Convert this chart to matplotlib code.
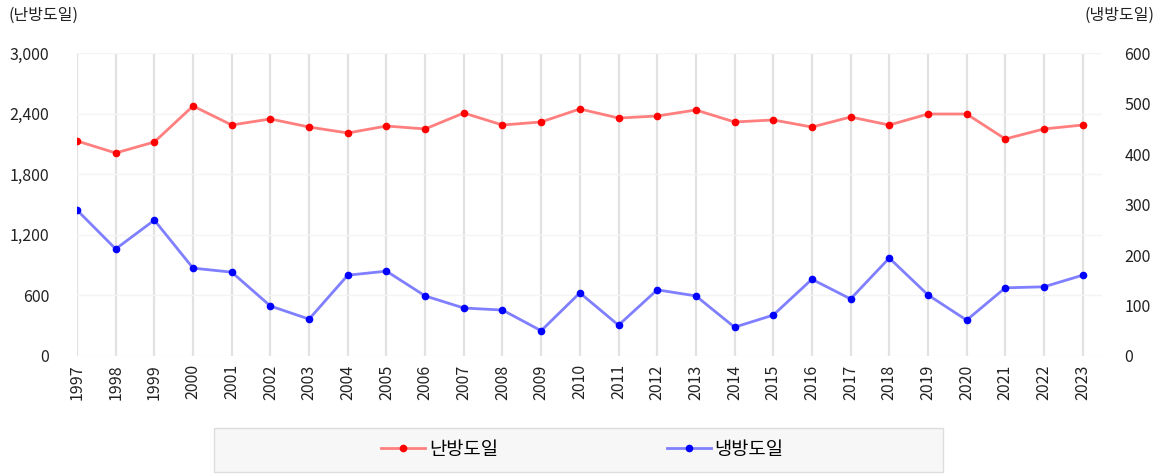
import matplotlib.pyplot as plt
from matplotlib.patches import Rectangle
from matplotlib.lines import Line2D

plt.rcParams['font.family'] = ['Noto Sans CJK KR', 'DejaVu Sans']

years = [str(y) for y in range(1997, 2024)]
heating = [2129, 2010, 2119, 2475, 2287, 2347, 2267, 2208, 2277, 2248,
           2406, 2287, 2317, 2446, 2356, 2376, 2436, 2317, 2337, 2267,
           2366, 2287, 2396, 2396, 2149, 2248, 2287]
cooling = [289, 212, 269, 174, 166, 99, 73, 160, 168, 119,
           95, 91, 50, 125, 61, 131, 119, 57, 81, 152,
           113, 194, 121, 71, 135, 137, 160]

W, H = 1161, 474
fig = plt.figure(figsize=(W / 100, H / 100), dpi=100)
ax = fig.add_axes([77 / W, 1 - 356 / H, (1102 - 77) / W, (356 - 53) / H])
ax2 = ax.twinx()

x = list(range(len(years)))
ax.plot(x, heating, color='#ff7f7f', lw=2, marker='o', ms=4.5,
        mfc='#ff0000', mec='#ff0000', zorder=3)
ax2.plot(x, cooling, color='#7f7fff', lw=2, marker='o', ms=4.5,
         mfc='#0000ff', mec='#0000ff', zorder=3)

ax.set_xlim(0, 26.5)
ax.set_ylim(0, 3000)
ax2.set_ylim(0, 600)
ax.set_yticks([0, 600, 1200, 1800, 2400, 3000])
ax.set_yticklabels(['0', '600', '1,200', '1,800', '2,400', '3,000'])
ax2.set_yticks([0, 100, 200, 300, 400, 500, 600])
ax.set_xticks(x)
ax.set_xticklabels(years, rotation=90)

for a in (ax, ax2):
    for s in a.spines.values():
        s.set_visible(False)
    a.tick_params(length=0, labelsize=11.5, colors='#222222')
ax.tick_params(axis='y', pad=20)
ax2.tick_params(axis='y', pad=16)
ax.tick_params(axis='x', pad=6)

ax.grid(axis='x', color='#e2e2e2', lw=1.6)
ax.grid(axis='y', color='#f4f4f4', lw=1)
ax.set_axisbelow(True)

fig.text(8 / W, 1 - 15 / H, '(난방도일)', fontsize=11.5, va='center', ha='left', color='#222222')
fig.text(1155 / W, 1 - 15 / H, '(냉방도일)', fontsize=11.5, va='center', ha='right', color='#222222')

# legend box
fig.patches.append(Rectangle((214 / W, 2 / H), (943 - 214) / W, 44 / H,
                             transform=fig.transFigure, facecolor='#f7f7f7',
                             edgecolor='#dddddd', lw=1))
handles = [
    Line2D([], [], color='#ff7f7f', lw=2, marker='o', ms=4.5, mfc='#ff0000', mec='#ff0000'),
    Line2D([], [], color='#7f7fff', lw=2, marker='o', ms=4.5, mfc='#0000ff', mec='#0000ff'),
]
fig.legend(handles, ['난방도일', '냉방도일'], loc='center left',
           bbox_to_anchor=(381 / W, 25 / H), ncol=2, frameon=False,
           borderpad=0, borderaxespad=0,
           fontsize=13.5, handlelength=2.35, handletextpad=0.2, columnspacing=9.0)

fig.savefig('out.png', dpi=100)
